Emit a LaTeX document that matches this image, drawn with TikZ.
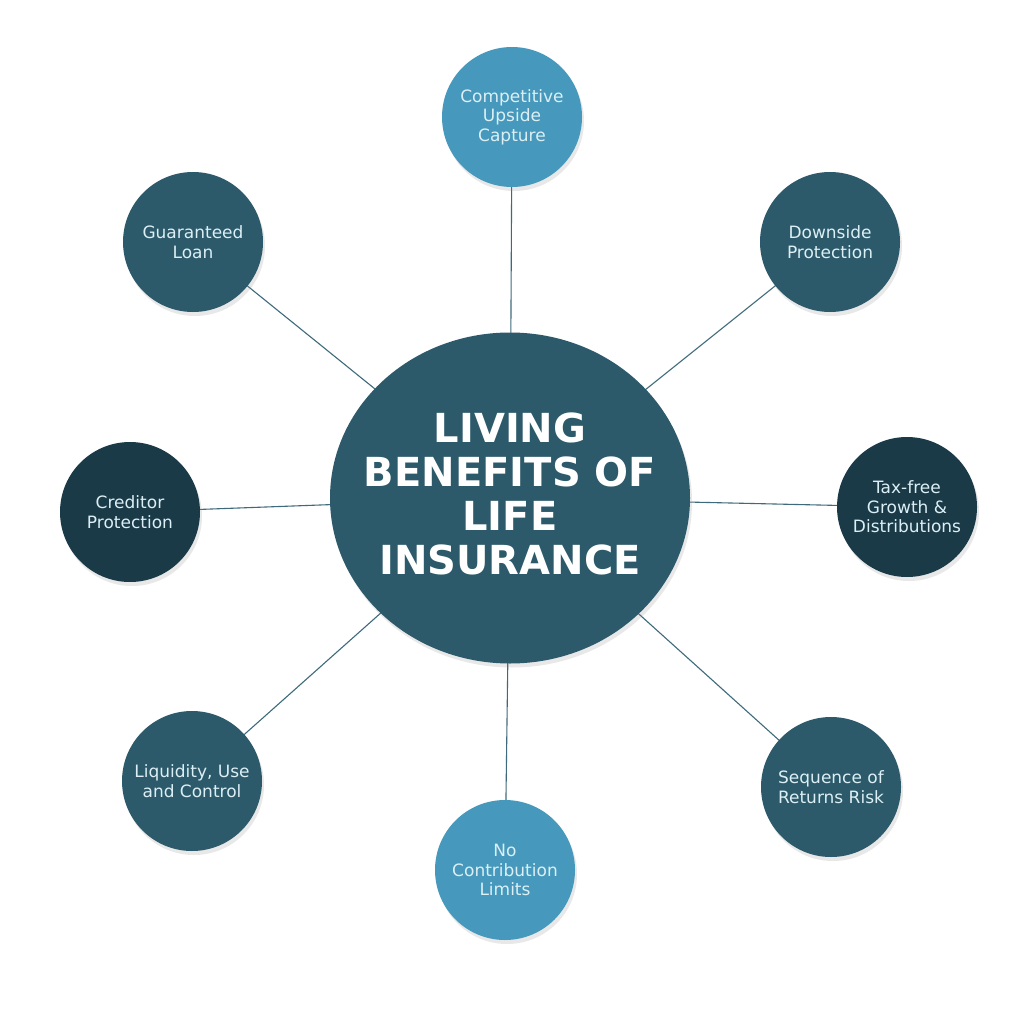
\documentclass[tikz,border=0pt]{standalone}
\usepackage{fontspec}
\setmainfont{DejaVu Sans}
\definecolor{LBMid}{HTML}{2C5A6A}
\definecolor{LBLight}{HTML}{4699BC}
\definecolor{LBDark}{HTML}{1B3A48}
\definecolor{LBText}{HTML}{DCEFF4}
\definecolor{LBLine}{HTML}{3F6A7B}
\usetikzlibrary{shapes.geometric, shadows, backgrounds}

\begin{document}
\begin{tikzpicture}[x=1pt, y=-1pt,
    bubble/.style={circle, minimum size=140pt, inner sep=0pt,
                   text=LBText, font=\fontsize{17}{19.5}\selectfont, align=center,
                   drop shadow={opacity=0.18, shadow xshift=2pt, shadow yshift=-4pt}},
    spoke/.style={LBLine, line width=1.1pt}]
  \useasboundingbox (0,0) rectangle (1024,1024);
  \node[ellipse, minimum width=360pt, minimum height=331pt, inner sep=0pt,
        fill=LBMid,
        drop shadow={opacity=0.18, shadow xshift=2pt, shadow yshift=-4pt}]
    (core) at (510,498) {};
  \node[text=white, align=center, font=\bfseries\fontsize{40}{44}\selectfont]
    (title) at (510,494) {LIVING\\BENEFITS OF\\LIFE\\INSURANCE};
  \node[bubble, fill=LBLight] (upside) at (512,117) {Competitive\\Upside\\Capture};
  \node[bubble, fill=LBMid] (down) at (830,242) {Downside\\Protection};
  \node[bubble, fill=LBDark] (tax) at (907,507) {Tax-free\\Growth \&\\Distributions};
  \node[bubble, fill=LBMid] (seq) at (831,787) {Sequence of\\Returns Risk};
  \node[bubble, fill=LBLight] (limits) at (505,870) {No\\Contribution\\Limits};
  \node[bubble, fill=LBMid] (liq) at (192,781) {Liquidity, Use\\and Control};
  \node[bubble, fill=LBDark] (cred) at (130,512) {Creditor\\Protection};
  \node[bubble, fill=LBMid] (loan) at (193,242) {Guaranteed\\Loan};
  \begin{pgfonlayer}{background}
    \fill[white] (0,0) rectangle (1024,1024);
    \foreach \n in {upside, down, tax, seq, limits, liq, cred, loan}
      \draw[spoke] (core.center) -- (\n.center);
  \end{pgfonlayer}
\end{tikzpicture}
\end{document}
